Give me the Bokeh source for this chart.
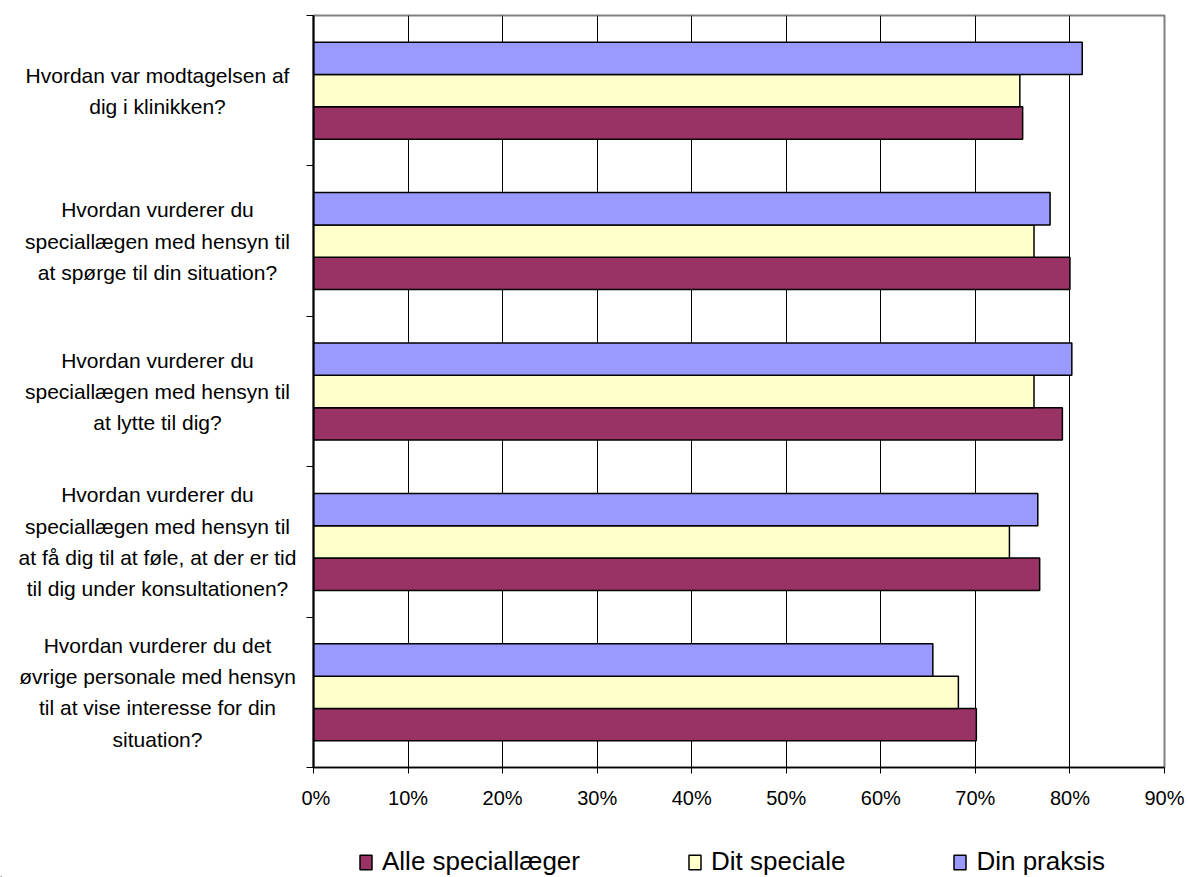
from bokeh.plotting import figure
from bokeh.layouts import row, column
from bokeh.models import (ColumnDataSource, Range1d, FixedTicker, Legend, LegendItem,
                          PrintfTickFormatter)
from bokeh.core.properties import value
from bokeh.transform import dodge
from bokeh.embed import file_html
from bokeh.resources import INLINE

# Survey questions (top to bottom) and share of positive answers, in percent
questions = [
    "Hvordan var modtagelsen af\ndig i klinikken?",
    "Hvordan vurderer du\nspeciallægen med hensyn til\nat spørge til din situation?",
    "Hvordan vurderer du\nspeciallægen med hensyn til\nat lytte til dig?",
    "Hvordan vurderer du\nspeciallægen med hensyn til\nat få dig til at føle, at der er tid\ntil dig under konsultationen?",
    "Hvordan vurderer du det\nøvrige personale med hensyn\ntil at vise interesse for din\nsituation?",
]
alle_speciallaeger = [75.0, 80.0, 79.2, 76.8, 70.1]
dit_speciale = [74.7, 76.2, 76.2, 73.6, 68.2]
din_praksis = [81.3, 77.9, 80.2, 76.6, 65.5]
x_ticks = [0, 10, 20, 30, 40, 50, 60, 70, 80, 90]

series_labels = ["Alle speciallæger", "Dit speciale", "Din praksis"]
series_colors = ["#993366", "#FFFFCC", "#9999FF"]

FONT = "Liberation Sans"
TOTAL_W, CHART_H, LEGEND_H = 1188, 812, 65
n = len(questions)
src = ColumnDataSource(dict(
    y=[n - i - 0.5 for i in range(n)],
    q=questions,
    alle=alle_speciallaeger,
    dit=dit_speciale,
    din=din_praksis,
))
y_range = Range1d(0, n)

# ---- left strip: question texts ----
LABEL_W = 301
lf = figure(width=LABEL_W, height=CHART_H, x_range=Range1d(0, LABEL_W), y_range=y_range,
            output_backend="svg", toolbar_location=None,
            x_axis_type=None, y_axis_type=None,
            min_border_left=0, min_border_right=0,
            min_border_top=15, min_border_bottom=45)
lf.outline_line_color = None
lf.grid.visible = False
lf.text(x=157, y="y", text="q", source=src,
        text_align="center", text_baseline="middle",
        text_font=value(FONT), text_font_size=value("21px"),
        text_color="black", text_line_height=1.36)

# ---- bar chart ----
p = figure(width=TOTAL_W - LABEL_W, height=CHART_H,
           x_range=Range1d(0, 90), y_range=y_range,
           output_backend="svg", toolbar_location=None,
           min_border_left=12, min_border_right=24,
           min_border_top=15, min_border_bottom=45)

bar_h = 0.215
bar_fields = ["alle", "dit", "din"]
bar_offsets = [-bar_h, 0.0, bar_h]
for field, off, color in zip(bar_fields, bar_offsets, series_colors):
    p.hbar(y=dodge("y", off), left=0, right=field, height=bar_h, source=src,
           fill_color=color, line_color="black", line_width=1.5)

p.outline_line_color = "#808080"
p.outline_line_width = 2
p.ygrid.visible = False
p.xgrid.ticker = FixedTicker(ticks=x_ticks[1:-1])
p.xgrid.grid_line_color = "black"
p.xgrid.grid_line_width = 1

xa = p.xaxis[0]
xa.ticker = FixedTicker(ticks=x_ticks)
xa.formatter = PrintfTickFormatter(format="%d%%")
xa.axis_line_color = "black"
xa.axis_line_width = 1.5
xa.major_tick_line_color = "black"
xa.major_tick_in = 0
xa.major_tick_out = 6
xa.minor_tick_line_color = None
xa.major_label_text_font = FONT
xa.major_label_text_font_size = "20px"
xa.major_label_text_color = "black"
xa.major_label_standoff = 13

# y axis: tick marks on the category boundaries only
ya = p.yaxis[0]
ya.ticker = FixedTicker(ticks=list(range(n + 1)))
ya.major_label_overrides = {i: "" for i in range(n + 1)}
ya.major_label_standoff = 0
ya.axis_line_color = "black"
ya.axis_line_width = 2
ya.major_tick_line_color = "black"
ya.major_tick_in = 0
ya.major_tick_out = 7
ya.minor_tick_line_color = None

# ---- legend strip ----
# key renderers sit below the visible range; only their legend swatches show
lg = figure(width=TOTAL_W, height=LEGEND_H,
            x_range=Range1d(0, TOTAL_W), y_range=Range1d(0, LEGEND_H),
            output_backend="svg", toolbar_location=None,
            x_axis_type=None, y_axis_type=None,
            min_border_left=0, min_border_right=0,
            min_border_top=0, min_border_bottom=0)
lg.outline_line_color = None
lg.grid.visible = False
keys = [lg.hbar(y=[-1000], right=[1], left=0, height=1, fill_color=c,
                line_color="black", line_width=1.5) for c in series_colors]
legend = Legend(items=[LegendItem(label=l, renderers=[r]) for l, r in zip(series_labels, keys)],
                location=(358, 0), orientation="horizontal",
                glyph_width=15, glyph_height=18, label_standoff=9,
                padding=0, margin=0, spacing=107,
                border_line_color=None, background_fill_alpha=0,
                label_text_font=FONT, label_text_font_size="26px",
                label_text_color="black")
lg.add_layout(legend, "center")

layout = column(row(lf, p, spacing=0), lg, spacing=0)
open("out.html", "w").write(file_html(layout, INLINE))
